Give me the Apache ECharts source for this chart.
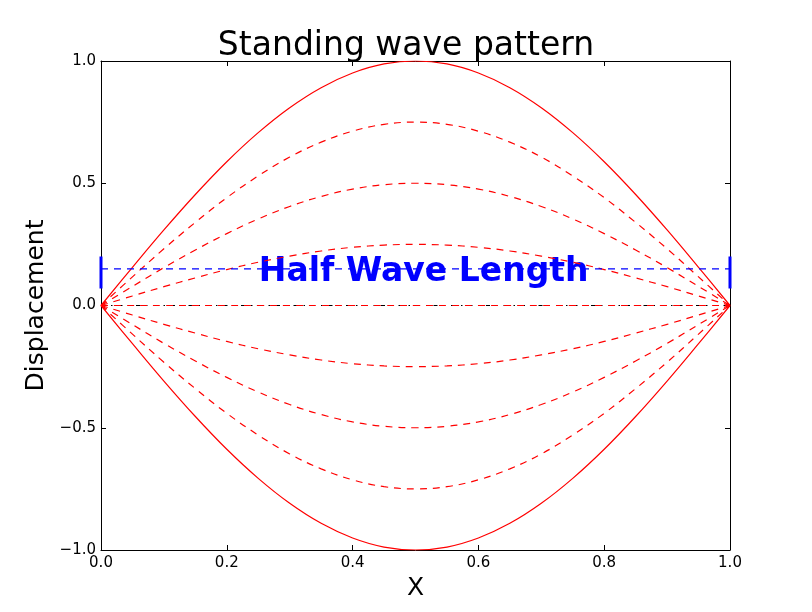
<!DOCTYPE html>
<html>
<head>
<meta charset="utf-8">
<script src="https://cdn.jsdelivr.net/npm/echarts@6/dist/echarts.min.js"></script>
<style>
  html, body { margin: 0; padding: 0; background: #fff; }
  #main { width: 812px; height: 612px; }
</style>
</head>
<body>
<div id="main"></div>
<script>
// x positions along the string
const xs = [0, 0.05, 0.1, 0.15, 0.2, 0.25, 0.3, 0.35, 0.4, 0.45, 0.5, 0.55, 0.6, 0.65, 0.7, 0.75, 0.8, 0.85, 0.9, 0.95, 1]

// displacement
const wavePos100 = [0, 0.156, 0.309, 0.454, 0.588, 0.707, 0.809, 0.891, 0.951, 0.988, 1.0, 0.988, 0.951, 0.891, 0.809, 0.707, 0.588, 0.454, 0.309, 0.156, 0]
const wavePos75 = [0, 0.117, 0.232, 0.340, 0.441, 0.530, 0.607, 0.668, 0.713, 0.741, 0.75, 0.741, 0.713, 0.668, 0.607, 0.530, 0.441, 0.340, 0.232, 0.117, 0]
const wavePos50 = [0, 0.078, 0.155, 0.227, 0.294, 0.354, 0.405, 0.446, 0.476, 0.494, 0.50, 0.494, 0.476, 0.446, 0.405, 0.354, 0.294, 0.227, 0.155, 0.078, 0]
const wavePos25 = [0, 0.039, 0.077, 0.113, 0.147, 0.177, 0.202, 0.223, 0.238, 0.247, 0.25, 0.247, 0.238, 0.223, 0.202, 0.177, 0.147, 0.113, 0.077, 0.039, 0]
const waveZero = [0, 0, 0, 0, 0, 0, 0, 0, 0, 0, 0, 0, 0, 0, 0, 0, 0, 0, 0, 0, 0]
const waveNeg25 = [0, -0.039, -0.077, -0.113, -0.147, -0.177, -0.202, -0.223, -0.238, -0.247, -0.25, -0.247, -0.238, -0.223, -0.202, -0.177, -0.147, -0.113, -0.077, -0.039, 0]
const waveNeg50 = [0, -0.078, -0.155, -0.227, -0.294, -0.354, -0.405, -0.446, -0.476, -0.494, -0.50, -0.494, -0.476, -0.446, -0.405, -0.354, -0.294, -0.227, -0.155, -0.078, 0]
const waveNeg75 = [0, -0.117, -0.232, -0.340, -0.441, -0.530, -0.607, -0.668, -0.713, -0.741, -0.75, -0.741, -0.713, -0.668, -0.607, -0.530, -0.441, -0.340, -0.232, -0.117, 0]
const waveNeg100 = [0, -0.156, -0.309, -0.454, -0.588, -0.707, -0.809, -0.891, -0.951, -0.988, -1.0, -0.988, -0.951, -0.891, -0.809, -0.707, -0.588, -0.454, -0.309, -0.156, 0]

// half wave length marker
const halfWaveX = [0, 1]
const halfWaveY = 0.15
const halfWaveBar = [0.07, 0.20] // vertical end bars
const halfWaveLabel = 'Half Wave Length'
const halfWaveLabelPos = [0.513, 0.137]

const font = 'DejaVu Sans'
const dash = [7, 6]

function pts(ys) {
  return xs.map(function (x, i) { return [x, ys[i]] })
}

function waveSeries(ys, dashed) {
  return {
    type: 'line',
    data: pts(ys),
    smooth: 0.4,
    symbol: 'none',
    silent: true,
    lineStyle: { color: '#ff0000', width: 1.2, type: dashed ? dash : 'solid' },
  }
}

const fmtNum = function (v) {
  return Number(v).toFixed(1).replace('-', '\u2212')
}

const chart = echarts.init(document.getElementById('main'), null, { renderer: 'canvas' })

const axisCommon = {
  type: 'value',
  axisLine: { show: true, onZero: false, lineStyle: { color: '#000', width: 1 } },
  axisTick: { show: true, inside: true, length: 5, lineStyle: { color: '#000' } },
  splitLine: { show: false },
}

chart.setOption({
  animation: false,
  backgroundColor: '#fff',
  title: {
    text: 'Standing wave pattern',
    left: 'center',
    top: 25,
    textStyle: { fontFamily: font, fontSize: 33, fontWeight: 'normal', color: '#000' },
  },
  grid: { left: 101, right: 82, top: 61, bottom: 62 },
  xAxis: [
    Object.assign({}, axisCommon, {
      min: 0, max: 1, interval: 0.2,
      position: 'bottom',
      name: 'X',
      nameLocation: 'middle',
      nameGap: 23,
      nameTextStyle: { fontFamily: font, fontSize: 25, color: '#000' },
      axisLabel: { fontFamily: font, fontSize: 15, color: '#000', margin: 6, formatter: fmtNum },
    }),
    Object.assign({}, axisCommon, {
      min: 0, max: 1, interval: 0.2,
      position: 'top',
      axisLabel: { show: false },
    }),
  ],
  yAxis: [
    Object.assign({}, axisCommon, {
      min: -1, max: 1, interval: 0.5,
      position: 'left',
      name: 'Displacement',
      nameLocation: 'middle',
      nameGap: 48,
      nameTextStyle: { fontFamily: font, fontSize: 25, color: '#000' },
      axisLabel: { fontFamily: font, fontSize: 15, color: '#000', margin: 5, formatter: fmtNum },
    }),
    Object.assign({}, axisCommon, {
      min: -1, max: 1, interval: 0.5,
      position: 'right',
      axisLabel: { show: false },
    }),
  ],
  series: [
    // black dash-dot axis line under the zero curve
    {
      type: 'line',
      data: [[halfWaveX[0], 0], [halfWaveX[1], 0]],
      symbol: 'none',
      silent: true,
      lineStyle: { color: '#000', width: 1, type: [4, 6, 1.5, 6] },
    },
    waveSeries(wavePos100, false),
    waveSeries(wavePos75, true),
    waveSeries(wavePos50, true),
    waveSeries(wavePos25, true),
    waveSeries(waveZero, true),
    waveSeries(waveNeg25, true),
    waveSeries(waveNeg50, true),
    waveSeries(waveNeg75, true),
    waveSeries(waveNeg100, false),
    {
      type: 'line',
      data: [[halfWaveX[0], halfWaveY], [halfWaveX[1], halfWaveY]],
      symbol: 'none',
      silent: true,
      lineStyle: { color: '#0000ff', width: 1.2, type: dash },
    },
    {
      type: 'line',
      data: [[halfWaveX[0], halfWaveBar[0]], [halfWaveX[0], halfWaveBar[1]]],
      symbol: 'none',
      silent: true,
      lineStyle: { color: '#0000ff', width: 3 },
    },
    {
      type: 'line',
      data: [[halfWaveX[1], halfWaveBar[0]], [halfWaveX[1], halfWaveBar[1]]],
      symbol: 'none',
      silent: true,
      lineStyle: { color: '#0000ff', width: 3 },
    },
    {
      type: 'scatter',
      data: [halfWaveLabelPos],
      symbolSize: 1,
      itemStyle: { color: 'transparent', opacity: 1 },
      silent: true,
      label: {
        show: true,
        position: 'inside',
        formatter: halfWaveLabel,
        fontFamily: font,
        fontSize: 33,
        fontWeight: 'bold',
        color: '#0000ff',
        opacity: 1,
      },
    },
  ],
})
</script>
</body>
</html>
